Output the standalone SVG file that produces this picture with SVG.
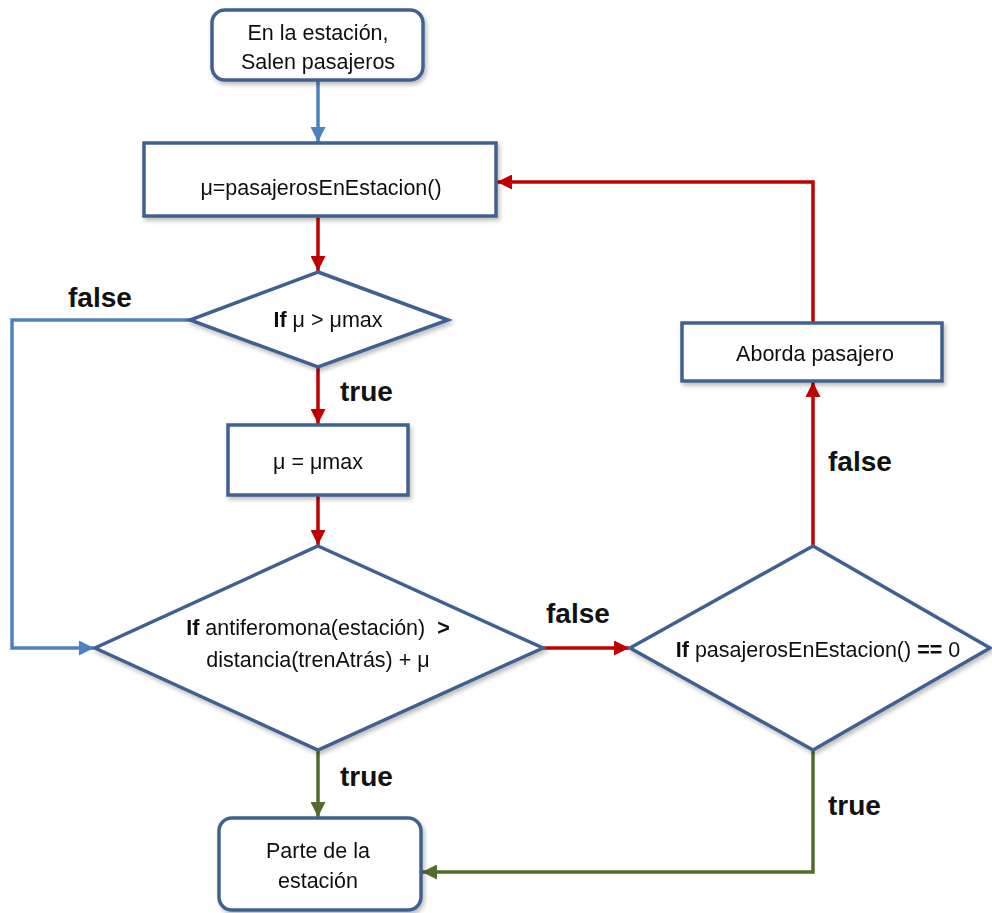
<svg xmlns="http://www.w3.org/2000/svg" width="992" height="913" viewBox="0 0 992 913">
  <defs>
    <style>
      .node { fill: #ffffff; stroke: #41618f; stroke-width: 3.5; }
      .txt { font-family: "Liberation Sans", Arial, sans-serif; font-size: 21.5px; fill: #111111; text-anchor: middle; }
      .lbl { font-family: "Liberation Sans", Arial, sans-serif; font-size: 28px; font-weight: bold; fill: #111111; }
      .b { font-weight: bold; }
      .blue { fill: none; stroke: #4f81bd; stroke-width: 3.5; }
      .red { fill: none; stroke: #c00000; stroke-width: 3.5; }
      .green { fill: none; stroke: #536b2c; stroke-width: 3.5; }
    </style>
    <marker id="arrBlue" markerUnits="userSpaceOnUse" markerWidth="17" markerHeight="15" refX="15" refY="7.5" orient="auto">
      <path d="M0,0 L15,7.5 L0,15 z" fill="#4f81bd"/>
    </marker>
    <marker id="arrRed" markerUnits="userSpaceOnUse" markerWidth="17" markerHeight="15" refX="15" refY="7.5" orient="auto">
      <path d="M0,0 L15,7.5 L0,15 z" fill="#c00000"/>
    </marker>
    <marker id="arrGreen" markerUnits="userSpaceOnUse" markerWidth="17" markerHeight="15" refX="15" refY="7.5" orient="auto">
      <path d="M0,0 L15,7.5 L0,15 z" fill="#536b2c"/>
    </marker>
    <filter id="shadow" x="-10%" y="-10%" width="125%" height="130%">
      <feDropShadow dx="2" dy="3" stdDeviation="2" flood-color="#000000" flood-opacity="0.25"/>
    </filter>
  </defs>

  <rect width="992" height="913" fill="#ffffff"/>

  <!-- connectors -->
  <g id="connectors">
    <path class="blue" d="M318,80 V142" marker-end="url(#arrBlue)"/>
    <path class="red" d="M318,216 V271" marker-end="url(#arrRed)"/>
    <path class="red" d="M318,367 V424" marker-end="url(#arrRed)"/>
    <path class="red" d="M318,495 V545" marker-end="url(#arrRed)"/>
    <path class="blue" d="M190,320 H12 V648 H94" marker-end="url(#arrBlue)"/>
    <path class="red" d="M543,648 H629" marker-end="url(#arrRed)"/>
    <path class="red" d="M813,546 V382" marker-end="url(#arrRed)"/>
    <path class="red" d="M813,323 V182 H497" marker-end="url(#arrRed)"/>
    <path class="green" d="M318,750 V817" marker-end="url(#arrGreen)"/>
    <path class="green" d="M813,750 V872 H422" marker-end="url(#arrGreen)"/>

    <text class="lbl" x="68" y="307">false</text>
    <text class="lbl" x="340" y="401">true</text>
    <text class="lbl" x="546" y="623">false</text>
    <text class="lbl" x="828" y="471">false</text>
    <text class="lbl" x="340" y="786">true</text>
    <text class="lbl" x="828" y="815">true</text>
  </g>

  <!-- start: passengers leave at the station -->
  <g id="start" filter="url(#shadow)">
    <rect class="node" x="212" y="10" width="211" height="70" rx="13"/>
    <text class="txt" x="318" y="40">En la estación,</text>
    <text class="txt" x="318" y="69">Salen pasajeros</text>
  </g>

  <g id="mu-assign" filter="url(#shadow)">
    <rect class="node" x="144" y="143" width="352" height="73"/>
    <text class="txt" x="321" y="195">μ=pasajerosEnEstacion()</text>
  </g>

  <g id="check-mumax" filter="url(#shadow)">
    <polygon class="node" points="318,272 448,320 318,367 190,320"/>
    <text class="txt" x="328" y="327"><tspan class="b">If</tspan> μ &gt; μmax</text>
  </g>

  <g id="clamp-mu" filter="url(#shadow)">
    <rect class="node" x="228" y="425" width="180" height="70"/>
    <text class="txt" x="318" y="469">μ = μmax</text>
  </g>

  <g id="check-antipheromone" filter="url(#shadow)">
    <polygon class="node" points="318,546 543,648 318,750 95,648"/>
    <text class="txt" x="318" y="635"><tspan class="b">If</tspan> antiferomona(estación)&#160; <tspan class="b">&gt;</tspan></text>
    <text class="txt" x="318" y="667">distancia(trenAtrás) + μ</text>
  </g>

  <g id="check-empty" filter="url(#shadow)">
    <polygon class="node" points="813,546 990,648 813,750 630,648"/>
    <text class="txt" x="818" y="657"><tspan class="b">If</tspan> pasajerosEnEstacion() <tspan class="b">==</tspan> 0</text>
  </g>

  <g id="board" filter="url(#shadow)">
    <rect class="node" x="682" y="323" width="260" height="58"/>
    <text class="txt" x="815" y="361">Aborda pasajero</text>
  </g>

  <g id="depart" filter="url(#shadow)">
    <rect class="node" x="219" y="818" width="202" height="92" rx="13"/>
    <text class="txt" x="318" y="858">Parte de la</text>
    <text class="txt" x="318" y="888">estación</text>
  </g>
</svg>
